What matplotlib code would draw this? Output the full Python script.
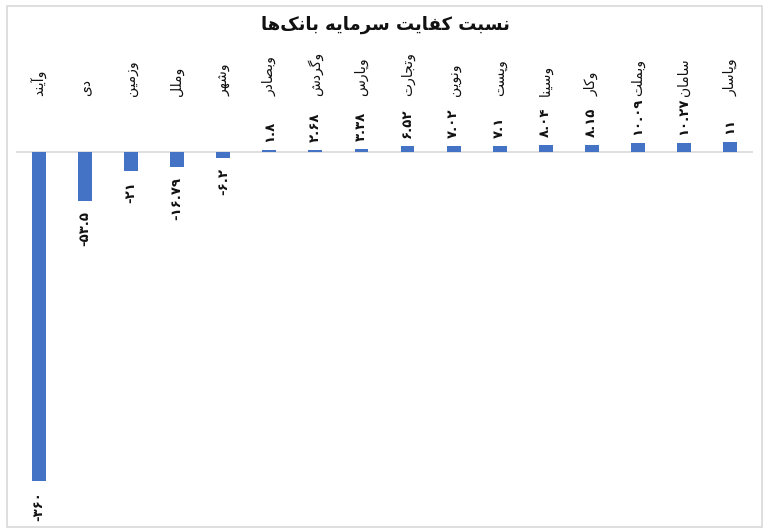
import matplotlib
matplotlib.use("Agg")
import matplotlib.pyplot as plt
from matplotlib.patches import Rectangle
from matplotlib.transforms import blended_transform_factory, offset_copy

# ---------------- data ----------------
title = "نسبت کفایت سرمایه بانک‌ها"
categories = ['وآیند', 'دی', 'وزمین', 'وملل', 'وشهر', 'وبصادر', 'وگردش', 'وپارس',
              'وتجارت', 'ونوین', 'وپست', 'وسینا', 'وکار', 'وبملت', 'سامان', 'وپاسار']
values = [-360, -53.5, -21, -16.79, -6.2, 1.8, 2.68, 3.38,
          6.52, 7.02, 7.1, 8.04, 8.15, 10.09, 10.27, 11]

# ---------------- Arabic-script shaping (matplotlib has no bidi/shaping) ----------------
FORMS = {  # isolated, final, initial, medial
    'ا': (0xFE8D, 0xFE8E, None, None), 'آ': (0xFE81, 0xFE82, None, None),
    'ب': (0xFE8F, 0xFE90, 0xFE91, 0xFE92), 'پ': (0xFB56, 0xFB57, 0xFB58, 0xFB59),
    'ت': (0xFE95, 0xFE96, 0xFE97, 0xFE98), 'ث': (0xFE99, 0xFE9A, 0xFE9B, 0xFE9C),
    'ج': (0xFE9D, 0xFE9E, 0xFE9F, 0xFEA0), 'چ': (0xFB7A, 0xFB7B, 0xFB7C, 0xFB7D),
    'ح': (0xFEA1, 0xFEA2, 0xFEA3, 0xFEA4), 'خ': (0xFEA5, 0xFEA6, 0xFEA7, 0xFEA8),
    'د': (0xFEA9, 0xFEAA, None, None), 'ذ': (0xFEAB, 0xFEAC, None, None),
    'ر': (0xFEAD, 0xFEAE, None, None), 'ز': (0xFEAF, 0xFEB0, None, None),
    'ژ': (0xFB8A, 0xFB8B, None, None),
    'س': (0xFEB1, 0xFEB2, 0xFEB3, 0xFEB4), 'ش': (0xFEB5, 0xFEB6, 0xFEB7, 0xFEB8),
    'ص': (0xFEB9, 0xFEBA, 0xFEBB, 0xFEBC), 'ض': (0xFEBD, 0xFEBE, 0xFEBF, 0xFEC0),
    'ط': (0xFEC1, 0xFEC2, 0xFEC3, 0xFEC4), 'ظ': (0xFEC5, 0xFEC6, 0xFEC7, 0xFEC8),
    'ع': (0xFEC9, 0xFECA, 0xFECB, 0xFECC), 'غ': (0xFECD, 0xFECE, 0xFECF, 0xFED0),
    'ف': (0xFED1, 0xFED2, 0xFED3, 0xFED4), 'ق': (0xFED5, 0xFED6, 0xFED7, 0xFED8),
    'ک': (0xFB8E, 0xFB8F, 0xFB90, 0xFB91), 'گ': (0xFB92, 0xFB93, 0xFB94, 0xFB95),
    'ل': (0xFEDD, 0xFEDE, 0xFEDF, 0xFEE0), 'م': (0xFEE1, 0xFEE2, 0xFEE3, 0xFEE4),
    'ن': (0xFEE5, 0xFEE6, 0xFEE7, 0xFEE8), 'و': (0xFEED, 0xFEEE, None, None),
    'ه': (0xFEE9, 0xFEEA, 0xFEEB, 0xFEEC), 'ی': (0xFBFC, 0xFBFD, 0xFBFE, 0xFBFF),
}


def shape(text):
    chars = list(text)
    out = []
    n = len(chars)
    for i, c in enumerate(chars):
        if c == '\u200c':
            continue
        if c not in FORMS:
            out.append(c)
            continue
        f = FORMS[c]
        prev = chars[i - 1] if i > 0 else None
        nxt = chars[i + 1] if i < n - 1 else None
        jp = prev in FORMS and FORMS[prev][2] is not None
        jn = f[2] is not None and nxt in FORMS
        if jp and jn:
            code = f[3]
        elif jp:
            code = f[1]
        elif jn:
            code = f[2]
        else:
            code = f[0]
        out.append(chr(code))
    return ''.join(reversed(out))


def fa_num(v):
    s = '{:g}'.format(v)
    return s.translate(str.maketrans('0123456789', '۰۱۲۳۴۵۶۷۸۹'))


# ---------------- figure ----------------
W, H = 771, 531
fig = plt.figure(figsize=(W / 100, H / 100), dpi=100)
fig.patch.set_facecolor('white')
fig.patches.append(Rectangle((7 / W, 1 - 527 / H), (762 - 7) / W, (527 - 6) / H,
                             transform=fig.transFigure, fill=False,
                             edgecolor='#d9d9d9', linewidth=1.2))

ax_top, ax_bot = 60, 490
ax = fig.add_axes([16 / W, 1 - ax_bot / H, (753 - 16) / W, (ax_bot - ax_top) / H])
scale = (481 - 152) / 360.0
ax.set_ylim(-(ax_bot - 152) / scale, (152 - ax_top) / scale)
x = list(range(len(categories)))
ax.set_xlim(-0.5, len(categories) - 0.5)
ax.bar(x, values, width=0.3, color='#4472C4', zorder=2)
ax.axhline(0, color='#d9d9d9', linewidth=1.2, zorder=1)
for s in ax.spines.values():
    s.set_visible(False)
ax.set_xticks([])
ax.set_yticks([])

fam = ['DejaVu Sans']
# category labels at top
trans = blended_transform_factory(ax.transData, fig.transFigure)
for xi, cat in zip(x, categories):
    ax.text(xi, 1 - 96 / H, shape(cat), transform=trans, rotation=90,
            ha='center', va='bottom', fontsize=10, family=fam, color='#111111')

# value labels
for xi, v in zip(x, values):
    if v >= 0:
        t = offset_copy(ax.transData, fig=fig, x=0, y=8, units='dots')
        va = 'bottom'
    else:
        t = offset_copy(ax.transData, fig=fig, x=0, y=-10, units='dots')
        va = 'top'
    ax.text(xi, v, fa_num(v), transform=t, rotation=90, ha='center', va=va,
            fontsize=9.5, family=fam, fontweight='bold', color='#111111')

fig.text(385 / W, 1 - 25 / H, shape(title), ha='center', va='center',
         fontsize=13, family=fam, fontweight='bold', color='#111111')

fig.savefig('out.png', dpi=100, facecolor='white')
